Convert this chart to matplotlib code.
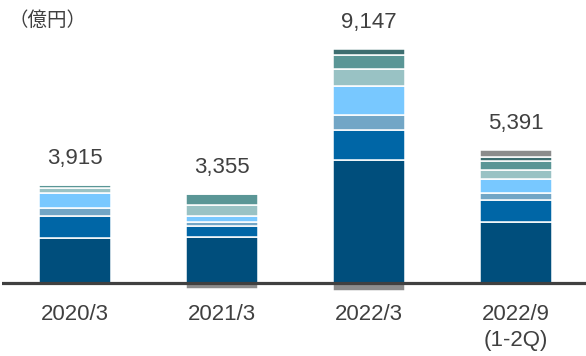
import matplotlib.pyplot as plt
import numpy as np

# categorias y segmentos (億円), de abajo hacia arriba
periodos = ["2020/3", "2021/3", "2022/3", "2022/9\n(1-2Q)"]
totales = ["3,915", "3,355", "9,147", "5,391"]

seg1 = [1818, 1844, 4962, 2460]
seg2 = [889, 452, 1224, 889]
seg3 = [311, 150, 618, 275]
seg4 = [618, 255, 1139, 566]
seg5 = [214, 436, 715, 372]
seg6 = [121, 473, 566, 364]
seg7 = [0, 0, 234, 170]
otros = [-61, -255, -311, 295]

colores = ["#004E7C", "#0066A6", "#72A6C6", "#78C8FF", "#99C2C4",
           "#5A9696", "#3E6E70", "#8C8C8C"]

plt.rcParams['font.family'] = ['Liberation Sans', 'DejaVu Sans']

fig = plt.figure(figsize=(5.86, 3.56), dpi=100)
ax = fig.add_axes([2 / 586, 60 / 356, 584 / 586, 296 / 356])

x = np.arange(len(periodos))
ancho = 0.49
series = [seg1, seg2, seg3, seg4, seg5, seg6, seg7, otros]

pos = np.zeros(len(x))
neg = np.zeros(len(x))
for serie, c in zip(series, colores):
    v = np.array(serie, dtype=float)
    base = np.where(v >= 0, pos, neg)
    ax.bar(x, v, ancho, bottom=base, color=c, edgecolor="white", linewidth=1.1)
    pos = pos + np.where(v >= 0, v, 0)
    neg = neg + np.where(v < 0, v, 0)

for xi, p, t in zip(x, pos, totales):
    ax.annotate(t, (xi, p), xytext=(0, 11.5), textcoords="offset points",
                ha="center", va="bottom", fontsize=16, color="#404040")

ax.axhline(0, color="#404040", linewidth=2.3, zorder=5)

ax.set_xlim(-73 / 147, 3 + 70 / 147)
ax.set_ylim(-13 * 40.4, 283 * 40.4)
ax.set_xticks(x)
ax.set_xticklabels(periodos, fontsize=16, color="#404040", linespacing=1.3)
ax.tick_params(axis="x", length=0, pad=6)
ax.set_yticks([])
for s in ax.spines.values():
    s.set_visible(False)

fig.text(8 / 586, 1 - 20 / 356, "（億円）", fontsize=14, color="#404040",
         va="center", ha="left", family=["Noto Sans CJK JP", "DejaVu Sans"])

fig.savefig("out.png", dpi=100)
